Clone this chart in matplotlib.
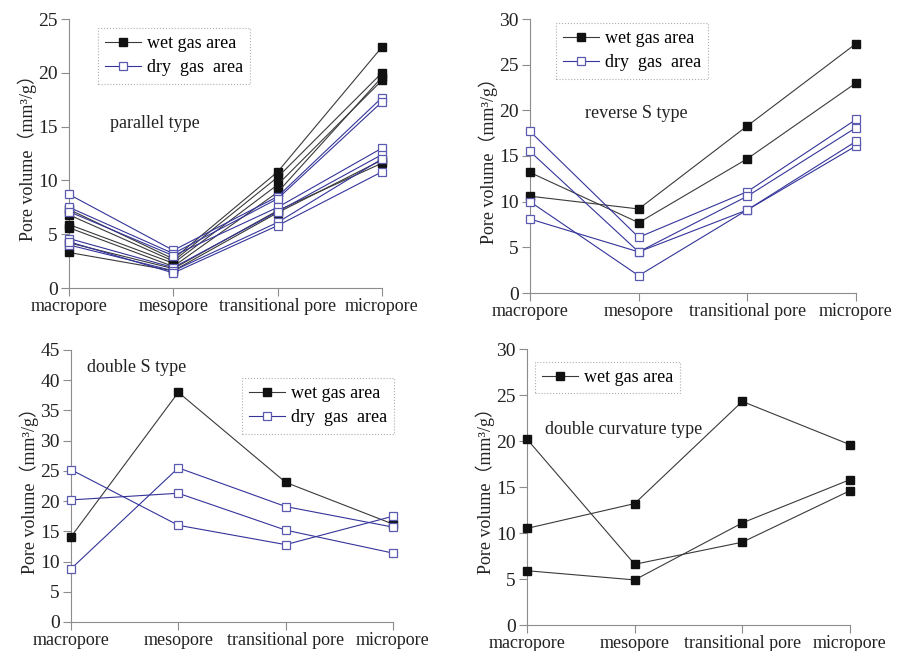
import matplotlib

matplotlib.use("Agg")
import matplotlib.pyplot as plt

# ---------------------------------------------------------------------------
# Data (pore volume, mm^3/g)
# ---------------------------------------------------------------------------
categories = ["macropore", "mesopore", "transitional pore", "micropore"]

parallel_wet = [
    [7.3, 2.7, 10.8, 22.4],
    [6.8, 2.5, 10.3, 20.0],
    [5.9, 2.3, 9.6, 19.3],
    [5.6, 2.0, 8.9, 19.6],
    [4.2, 1.8, 7.2, 11.6],
    [3.3, 1.6, 7.0, 11.9],
]
parallel_dry = [
    [8.7, 3.5, 8.5, 17.7],
    [7.5, 3.2, 8.3, 17.3],
    [7.1, 3.0, 7.5, 13.0],
    [4.6, 1.9, 7.1, 12.4],
    [4.0, 1.6, 6.1, 12.0],
    [4.3, 1.4, 5.8, 10.8],
]

reverse_s_wet = [
    [10.6, 9.2, 18.3, 27.3],
    [13.2, 7.7, 14.7, 23.0],
]
reverse_s_dry = [
    [17.7, 6.1, 11.1, 19.0],
    [15.5, 4.5, 10.6, 18.1],
    [10.0, 1.9, 9.1, 16.1],
    [8.1, 4.5, 9.1, 16.6],
]

double_s_wet = [
    [14.1, 38.0, 23.1, 16.2],
]
double_s_dry = [
    [8.8, 25.5, 19.1, 15.7],
    [20.2, 21.3, 15.2, 11.4],
    [25.2, 16.0, 12.8, 17.5],
]

double_curv_wet = [
    [10.5, 13.2, 24.3, 19.6],
    [20.2, 6.6, 9.0, 14.6],
    [5.9, 4.9, 11.1, 15.8],
]
double_curv_dry = []

SERIF = ["Liberation Serif", "DejaVu Serif"]
YLABEL_FONT = ["Liberation Serif", "Noto Sans CJK SC", "DejaVu Serif"]
WET_COLOR = "#3a3a3a"
DRY_COLOR = "#34349a"
AXIS_COLOR = "#8c8c8c"
TEXT_COLOR = "#222222"

plt.rcParams["font.family"] = SERIF


def _draw_panel(ax, wet, dry, ymax, ystep, label, label_xy, legend_box, show_dry_legend=True):
    """Draw one pore-volume panel with wet/dry series."""
    x = list(range(len(categories)))
    wet_handle = dry_handle = None
    for series in wet:
        (wet_handle,) = ax.plot(
            x, series, color=WET_COLOR, lw=0.8, marker="s", ms=5.5,
            mfc="#111111", mec="#111111", clip_on=False, zorder=3,
        )
    for series in dry:
        (dry_handle,) = ax.plot(
            x, series, color=DRY_COLOR, lw=0.8, marker="s", ms=6,
            mfc="white", mec="#5a5ab0", mew=0.9, clip_on=False, zorder=4,
        )

    ax.set_xlim(0, 3)
    ax.set_ylim(0, ymax)
    ax.set_xticks(x)
    ax.set_xticklabels(categories, fontsize=13)
    # last category label sits slightly right of its tick, as in the source
    ax.get_xticklabels()[-1].set_x(3.04)
    ax.set_yticks(range(0, ymax + 1, ystep))
    ax.tick_params(axis="y", direction="out", length=6, width=0.8,
                   colors=AXIS_COLOR, labelcolor=TEXT_COLOR, labelsize=14, pad=2)
    ax.tick_params(axis="x", direction="out", length=6, width=0.8,
                   colors=AXIS_COLOR, labelcolor=TEXT_COLOR, pad=1)
    for side in ("top", "right"):
        ax.spines[side].set_visible(False)
    for side in ("left", "bottom"):
        ax.spines[side].set_color(AXIS_COLOR)
        ax.spines[side].set_linewidth(0.8)

    ax.set_ylabel("Pore volume（mm³/g）", fontsize=13,
                  family=YLABEL_FONT, color=TEXT_COLOR, labelpad=1)

    ax.text(label_xy[0], label_xy[1], label, transform=ax.figure.transFigure,
            fontsize=13, color=TEXT_COLOR, va="center", ha="left")

    handles = [wet_handle]
    labels = ["wet gas area"]
    if show_dry_legend and dry_handle is not None:
        handles.append(dry_handle)
        labels.append("dry  gas  area")
    leg = ax.legend(
        handles, labels, loc="upper left", bbox_to_anchor=legend_box,
        bbox_transform=ax.figure.transFigure, fontsize=13, frameon=True,
        fancybox=False, handlelength=2.0, handletextpad=0.3,
        borderpad=0.4, labelspacing=0.4, borderaxespad=0,
    )
    frame = leg.get_frame()
    frame.set_linestyle(":")
    frame.set_edgecolor("#9a9a9a")
    frame.set_linewidth(0.8)


fig = plt.figure(figsize=(9.06, 6.51), dpi=100)
W, H = 906.0, 651.0


def _axes(left, top, right, bottom):
    return fig.add_axes([left / W, 1 - bottom / H, (right - left) / W, (bottom - top) / H])


ax1 = _axes(69, 19, 382, 288)
ax2 = _axes(530, 19, 856, 293)
ax3 = _axes(71, 350, 393, 622)
ax4 = _axes(527, 349, 850, 625)

_draw_panel(ax1, parallel_wet, parallel_dry, 25, 5, "parallel type",
            (110 / W, 1 - 123 / H), (98 / W, 1 - 28 / H))
_draw_panel(ax2, reverse_s_wet, reverse_s_dry, 30, 5, "reverse S type",
            (585 / W, 1 - 114 / H), (556 / W, 1 - 23 / H))
_draw_panel(ax3, double_s_wet, double_s_dry, 45, 5, "double S type",
            (87 / W, 1 - 368 / H), (242 / W, 1 - 378 / H))
_draw_panel(ax4, double_curv_wet, double_curv_dry, 30, 5, "double curvature type",
            (545 / W, 1 - 429 / H), (535 / W, 1 - 362 / H), show_dry_legend=False)

fig.savefig("out.png", dpi=100)
